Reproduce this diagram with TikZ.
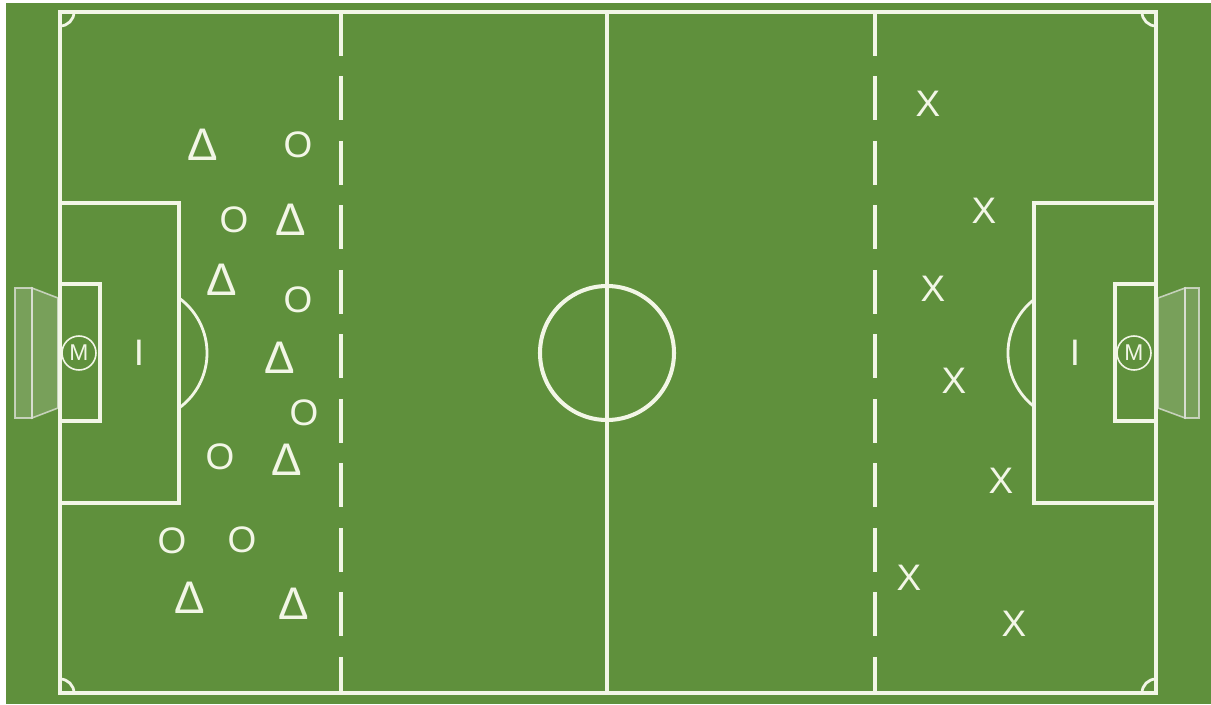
\documentclass[tikz,border=0pt]{standalone}
\usepackage{fontspec}
\setmainfont{Liberation Sans}
\usetikzlibrary{positioning}
\definecolor{grass}{HTML}{5F903C}
\definecolor{chalk}{HTML}{F2F6E6}
\definecolor{net}{HTML}{DCE0D6}
\tikzset{
  pitchline/.style={draw=chalk, line width=2.3pt},
  thinline/.style={draw=chalk, line width=1.6pt},
  zoneline/.style={draw=chalk, line width=2.4pt, dash pattern=on 0.88cm off 0.41cm},
  player/.style={text=chalk, font=\fontsize{21}{21}\selectfont, inner sep=0pt},
  tri/.style={player, font=\fontsize{26}{26}\selectfont},
  keeper/.style={
    draw=chalk, circle, line width=0.9pt, minimum size=0.68cm,
    inner sep=0pt, text=chalk, font=\fontsize{13}{13}\selectfont
  },
  goalnet/.style={draw=net, draw opacity=0.8, line width=0.9pt, fill=net, fill opacity=0.2}
}

\begin{document}
\begin{tikzpicture}[x=0.02cm, y=-0.02cm]
  \useasboundingbox (0,0) rectangle (1211,704);
  \fill[white] (0,0) rectangle (1211,704);
  \fill[grass] (6,3) rectangle (1211,704);
  % goals
  \filldraw[goalnet] (15,288) rectangle (32,418);
  \filldraw[goalnet] (32,288) -- (58,298) -- (58,408) -- (32,418) -- cycle;
  \filldraw[goalnet] (1185,288) rectangle (1199,418);
  \filldraw[goalnet] (1185,288) -- (1158,298) -- (1158,408) -- (1185,418) -- cycle;
  % pitch
  \draw[pitchline] (60,12) rectangle (1156,693);
  \draw[pitchline] (607,12) -- (607,693);
  \draw[pitchline] (607,353) circle (67);
  \draw[pitchline] (60,203) -- (179,203) -- (179,503) -- (60,503);
  \draw[pitchline] (60,284) -- (100,284) -- (100,421) -- (60,421);
  \draw[pitchline] (1156,203) -- (1034,203) -- (1034,503) -- (1156,503);
  \draw[pitchline] (1156,284) -- (1115,284) -- (1115,421) -- (1156,421);
  \draw[thinline] (179,298) arc[start angle=-54, end angle=54, radius=68];
  \draw[thinline] (1034.1,406.6) arc[start angle=128, end angle=232, radius=68];
  \draw[thinline] (74,12) arc[start angle=0, end angle=90, radius=14];
  \draw[thinline] (1156,26) arc[start angle=90, end angle=180, radius=14];
  \draw[thinline] (60,679) arc[start angle=270, end angle=360, radius=14];
  \draw[thinline] (1142,693) arc[start angle=180, end angle=270, radius=14];
  % zones
  \draw[zoneline] (341,12) -- (341,693);
  \draw[zoneline] (875,12) -- (875,693);
  % keepers
  \node[keeper] (mL) at (79,353) {M};
  \node[keeper] (mR) at (1134,353) {M};
  \node[player] (iL) at (139,353) {I};
  \node[player] (iR) at (1075,353) {I};
  % triangles
  \node[tri] (t1) at (203,145) {Δ};
  \node[tri] (t2) at (291,220) {Δ};
  \node[tri] (t3) at (222,280) {Δ};
  \node[tri] (t4) at (280,358) {Δ};
  \node[tri] (t5) at (287,460) {Δ};
  \node[tri] (t6) at (190,598) {Δ};
  \node[tri] (t7) at (294,604) {Δ};
  % circles
  \node[player] (o1) at (298,145) {O};
  \node[player] (o2) at (234,220) {O};
  \node[player] (o3) at (298,300) {O};
  \node[player] (o4) at (304,413) {O};
  \node[player] (o5) at (220,457) {O};
  \node[player] (o6) at (172,541) {O};
  \node[player] (o7) at (242,540) {O};
  % crosses
  \node[player] (x1) at (928,104) {X};
  \node[player] (x2) at (984,211) {X};
  \node[player] (x3) at (933,289) {X};
  \node[player] (x4) at (954,381) {X};
  \node[player] (x5) at (1001,481) {X};
  \node[player] (x6) at (909,578) {X};
  \node[player] (x7) at (1014,624) {X};
\end{tikzpicture}
\end{document}
